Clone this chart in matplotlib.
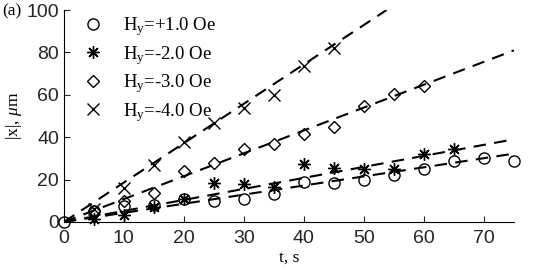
import matplotlib
matplotlib.use("Agg")
import matplotlib.pyplot as plt
import numpy as np

# measured points, |x| in um vs t in s
t_h1 = [0, 5, 10, 15, 20, 25, 30, 35, 40, 45, 50, 55, 60, 65, 70, 75]
x_h1 = [0, 5, 7.4, 8, 11, 10, 10.6, 13, 19, 18.4, 20, 22.3, 24.8, 29, 30, 28.7]

t_h2 = [5, 10, 15, 20, 25, 30, 35, 40, 45, 50, 55, 60, 65]
x_h2 = [1.5, 3.2, 7, 11, 18.4, 18, 16.5, 27.5, 25.3, 24.8, 25, 32, 34.6]

t_h3 = [5, 10, 15, 20, 25, 30, 35, 40, 45, 50, 55, 60]
x_h3 = [5, 10, 13.8, 24, 28, 34.6, 37, 41.6, 44.6, 54.5, 60.5, 64]

t_h4 = [5, 10, 15, 20, 25, 30, 35, 40, 45]
x_h4 = [6, 16, 27, 37.7, 46.5, 54, 60, 73.8, 82.3]

labels = ["H$_\\mathrm{y}$=+1.0 Oe", "H$_\\mathrm{y}$=-2.0 Oe",
          "H$_\\mathrm{y}$=-3.0 Oe", "H$_\\mathrm{y}$=-4.0 Oe"]
fit_slopes = [0.43, 0.52, 1.08, 1.86]  # um/s, linear fits through origin

plt.rcParams["mathtext.fontset"] = "custom"
plt.rcParams["mathtext.rm"] = "Liberation Serif"
plt.rcParams["mathtext.it"] = "Liberation Serif:italic"
plt.rcParams["mathtext.sf"] = "Liberation Serif"

fig = plt.figure(figsize=(5.41, 2.73), dpi=100)
ax = fig.add_axes([0.118, 0.187, 0.832, 0.776])

series = [(t_h1, x_h1, "o"), (t_h2, x_h2, (8, 2, 0)), (t_h3, x_h3, "D"), (t_h4, x_h4, "x")]
sizes = [8, 9, 6.5, 8]
for (t, x, m), lab, k, ms in zip(series, labels, fit_slopes, sizes):
    ax.plot(t, x, linestyle="none", marker=m, ms=ms, mfc="none", mec="k",
            mew=1.0, label=lab, clip_on=False, zorder=3)
    tt = np.linspace(0, min(75, 100 / k), 200)
    ax.plot(tt, k * tt, "k--", lw=1.5, dashes=(6, 4), zorder=2)

ax.set_xlim(0, 75)
ax.set_ylim(0, 100)
ax.set_xticks(range(0, 80, 10))
ax.set_yticks(range(0, 101, 20))
ax.spines["top"].set_visible(False)
ax.spines["right"].set_visible(False)
ax.tick_params(direction="in", length=4, labelsize=14, colors="#262626")
ax.tick_params(axis="x", pad=6)
for lbl in ax.get_xticklabels() + ax.get_yticklabels():
    lbl.set_fontfamily("Liberation Sans")

ax.set_xlabel("t, s", fontfamily="Liberation Serif", fontsize=12.5, labelpad=2)
ax.set_ylabel("|x|, $\\mu$m", fontfamily="Liberation Serif", fontsize=12.5, labelpad=2)
fig.text(0.005, 0.945, "(a)", fontfamily="Liberation Serif", fontsize=12.5)

leg = ax.legend(loc="upper left", frameon=False, prop={"family": "Liberation Serif", "size": 13.5},
                handlelength=1.2, handletextpad=1.0, labelspacing=0.3,
                borderaxespad=0.1, bbox_to_anchor=(0.02, 1.02))

fig.savefig("out.png", dpi=100)
